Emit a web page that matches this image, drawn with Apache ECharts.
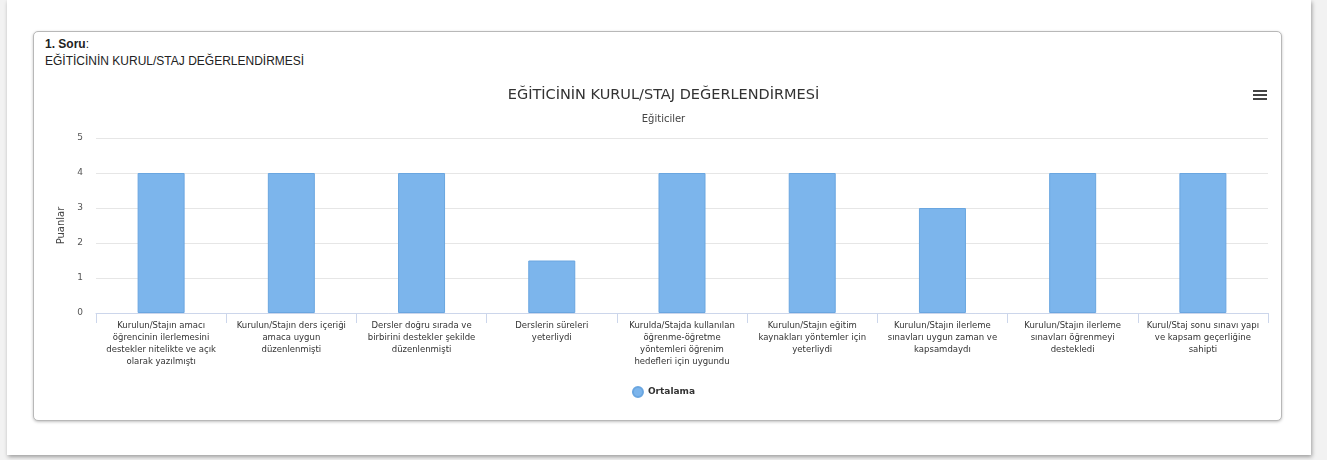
<!DOCTYPE html>
<html>
<head>
<meta charset="utf-8">
<script src="https://cdn.jsdelivr.net/npm/echarts@6/dist/echarts.min.js"></script>
<style>
  html, body { margin:0; padding:0; width:1327px; height:460px; background:#f2f2f2; overflow:hidden; }
  #panel { position:absolute; left:7px; top:0px; width:1304px; height:455px; background:#fff; box-shadow:1px 2px 4px rgba(0,0,0,0.35); }
  #card { position:absolute; left:33px; top:31px; width:1247px; height:388px; border:1px solid #b8b8b8; border-radius:5px; background:#fff; box-shadow:0 1px 3px rgba(0,0,0,0.25); }
  #hdr { position:absolute; left:45px; top:36px; font-family:"Liberation Sans", Arial, sans-serif; font-size:12px; color:#222; line-height:17px; }
  #chart { position:absolute; left:0; top:0; width:1327px; height:460px; }
</style>
</head>
<body>
<div id="panel"></div>
<div id="card"></div>
<div id="hdr"><b>1. Soru</b>:<br>EĞİTİCİNİN KURUL/STAJ DEĞERLENDİRMESİ</div>
<div id="chart"></div>
<script>
const chartTitle = "EĞİTİCİNİN KURUL/STAJ DEĞERLENDİRMESİ";
const chartSubtitle = "Eğiticiler";
const yAxisName = "Puanlar";
const seriesName = "Ortalama";
const categories = [
  "Kurulun/Stajın amacı öğrencinin ilerlemesini destekler nitelikte ve açık olarak yazılmıştı",
  "Kurulun/Stajın ders içeriği amaca uygun düzenlenmişti",
  "Dersler doğru sırada ve birbirini destekler şekilde düzenlenmişti",
  "Derslerin süreleri yeterliydi",
  "Kurulda/Stajda kullanılan öğrenme-öğretme yöntemleri öğrenim hedefleri için uygundu",
  "Kurulun/Stajın eğitim kaynakları yöntemler için yeterliydi",
  "Kurulun/Stajın ilerleme sınavları uygun zaman ve kapsamdaydı",
  "Kurulun/Stajın ilerleme sınavları öğrenmeyi destekledi",
  "Kurul/Staj sonu sınavı yapı ve kapsam geçerliğine sahipti"
];
// tick labels as wrapped in the reference
const tickLabels = [
  "Kurulun/Stajın amacı\nöğrencinin ilerlemesini\ndestekler nitelikte ve açık\nolarak yazılmıştı",
  "Kurulun/Stajın ders içeriği\namaca uygun\ndüzenlenmişti",
  "Dersler doğru sırada ve\nbirbirini destekler şekilde\ndüzenlenmişti",
  "Derslerin süreleri\nyeterliydi",
  "Kurulda/Stajda kullanılan\nöğrenme-öğretme\nyöntemleri öğrenim\nhedefleri için uygundu",
  "Kurulun/Stajın eğitim\nkaynakları yöntemler için\nyeterliydi",
  "Kurulun/Stajın ilerleme\nsınavları uygun zaman ve\nkapsamdaydı",
  "Kurulun/Stajın ilerleme\nsınavları öğrenmeyi\ndestekledi",
  "Kurul/Staj sonu sınavı yapı\nve kapsam geçerliğine\nsahipti"
];
const values = [4, 4, 4, 1.5, 4, 4, 3, 4, 4];

const font = "DejaVu Sans";
const chart = echarts.init(document.getElementById('chart'));
chart.setOption({
  animation: false,
  textStyle: { fontFamily: font },
  title: {
    text: chartTitle,
    subtext: chartSubtitle,
    left: 'center',
    top: 83,
    itemGap: 11,
    textStyle: { fontFamily: font, fontSize: 14.5, fontWeight: 'normal', color: '#333' },
    subtextStyle: { fontFamily: font, fontSize: 10, color: '#444' }
  },
  legend: {
    data: [seriesName],
    left: 'center',
    top: 381,
    icon: 'circle',
    itemWidth: 10,
    itemHeight: 10,
    itemGap: 5,
    textStyle: { fontFamily: font, fontSize: 9, fontWeight: 'bold', color: '#333' }
  },
  grid: { left: 96, right: 59, top: 138, bottom: 147, containLabel: false },
  xAxis: {
    type: 'category',
    data: categories,
    axisLine: { lineStyle: { color: '#ccd6eb' } },
    axisTick: { show: true, length: 10, alignWithLabel: false, lineStyle: { color: '#ccd6eb' } },
    axisLabel: {
      interval: 0, margin: 7,
      formatter: (v, i) => tickLabels[i],
      fontFamily: font, fontSize: 8.5, color: '#333', lineHeight: 12, align: 'center'
    }
  },
  yAxis: {
    type: 'value',
    min: 0, max: 5, interval: 1,
    name: yAxisName,
    nameLocation: 'middle',
    nameGap: 22,
    nameTextStyle: { fontFamily: font, fontSize: 10, color: '#444' },
    axisLine: { show: false },
    axisTick: { show: false },
    axisLabel: { margin: 13, fontFamily: font, fontSize: 9, color: '#555' },
    splitLine: { lineStyle: { color: '#e6e6e6' } }
  },
  series: [{
    name: seriesName,
    type: 'bar',
    data: values,
    barWidth: 47,
    itemStyle: { color: '#7cb5ec', borderColor: '#6aa6e0', borderWidth: 1 }
  }],
  graphic: [
    { type: 'rect', shape: { x: 1253, y: 90, width: 14, height: 2 }, style: { fill: '#444' } },
    { type: 'rect', shape: { x: 1253, y: 94, width: 14, height: 2 }, style: { fill: '#444' } },
    { type: 'rect', shape: { x: 1253, y: 98, width: 14, height: 2 }, style: { fill: '#444' } }
  ]
});
</script>
</body>
</html>
